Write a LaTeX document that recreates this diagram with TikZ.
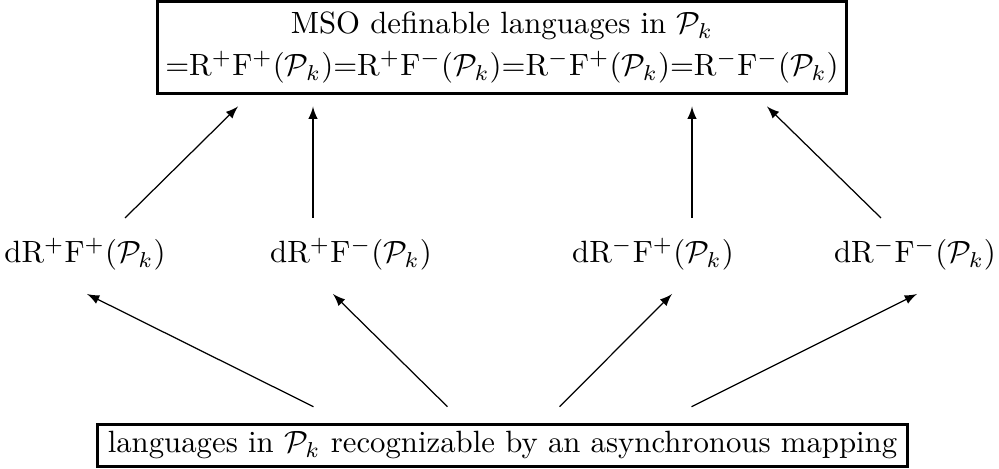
\documentclass[tikz,border=0pt]{standalone}
\usetikzlibrary{calc}
\begin{document}
\begin{tikzpicture}[x=0.325pt,y=-0.325pt,>=latex,
  box/.style={draw,line width=1pt,align=center},
  lab/.style={inner sep=0pt,anchor=base},
  arr/.style={->,line width=0.4pt}]
\useasboundingbox (0,0) rectangle (999,469);
\node[box,inner xsep=2.6pt,inner ysep=3.5pt] (top) at (502,47.5) {MSO definable languages in $\mathcal{P}_k$\\[1.65pt]
=R$^+$F$^+$($\mathcal{P}_k$)=R$^+$F$^-$($\mathcal{P}_k$)=R$^-$F$^+$($\mathcal{P}_k$)=R$^-$F$^-$($\mathcal{P}_k$)};
\node[lab] (m1) at (85,263) {dR$^+$F$^+$($\mathcal{P}_k$)};
\node[lab] (m2) at (351,263) {dR$^+$F$^-$($\mathcal{P}_k$)};
\node[lab] (m3) at (653,263) {dR$^-$F$^+$($\mathcal{P}_k$)};
\node[lab] (m4) at (915,263) {dR$^-$F$^-$($\mathcal{P}_k$)};
\node[box,inner xsep=3.4pt,inner ysep=2.4pt] (bot) at (502.5,445.5) {languages in $\mathcal{P}_k$ recognizable by an asynchronous mapping};
\draw[arr] ($(m1.base)+(40,-45)$) -- ($(top.south)+(-264,11)$);
\draw[arr] ($(m2.base)+(-38,-45)$) -- ($(top.south)+(-189,11)$);
\draw[arr] ($(m3.base)+(39,-45)$) -- ($(top.south)+(190,11)$);
\draw[arr] ($(m4.base)+(-34,-45)$) -- ($(top.south)+(265,11)$);
\draw[arr] ($(bot.north)+(-189,-16)$) -- ($(m1.base)+(2,31)$);
\draw[arr] ($(bot.north)+(-55,-16)$) -- ($(m2.base)+(-18,31)$);
\draw[arr] ($(bot.north)+(57,-16)$) -- ($(m3.base)+(19,31)$);
\draw[arr] ($(bot.north)+(189,-16)$) -- ($(m4.base)+(2,31)$);
\end{tikzpicture}
\end{document}
